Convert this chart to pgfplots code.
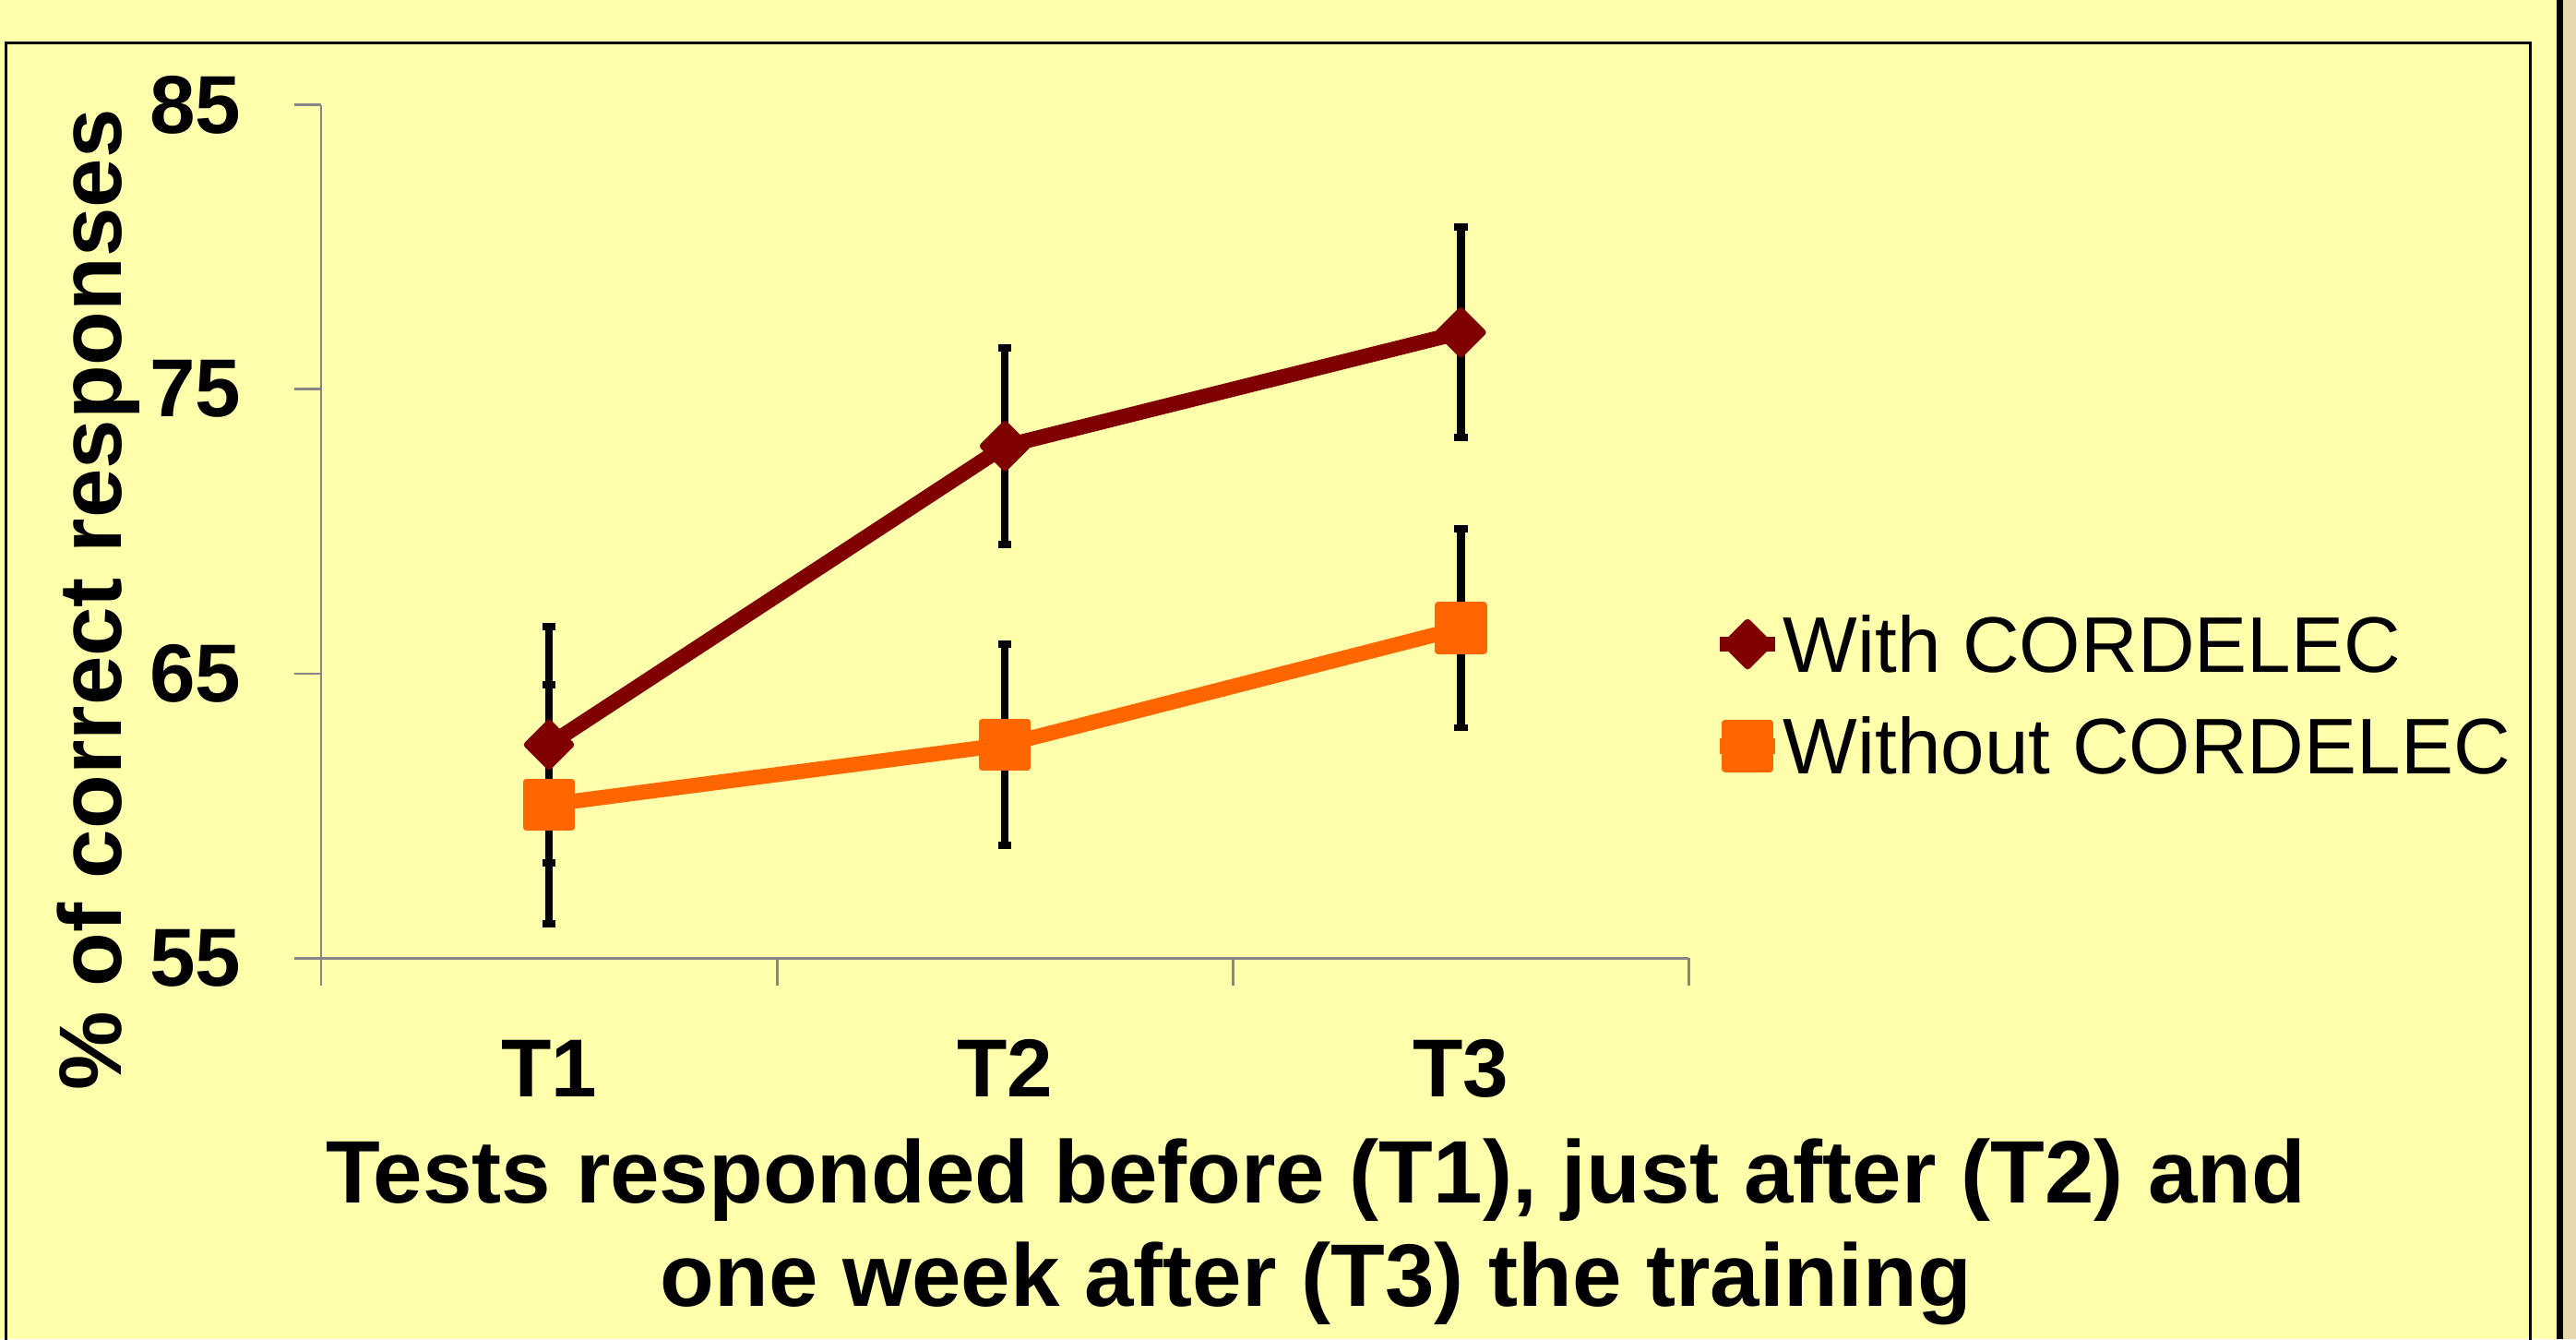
\documentclass[border=0pt]{standalone}
\usepackage{fontspec}
\setmainfont{Liberation Sans}
\usepackage{pgfplots}
\pgfplotsset{compat=1.18}
\definecolor{bgyellow}{RGB}{255,255,172}
\definecolor{maroonc}{RGB}{128,0,0}
\definecolor{orangec}{RGB}{255,102,0}
\definecolor{axgray}{RGB}{134,134,134}
\definecolor{beige}{RGB}{232,216,176}
\pgfplotstableread{
x y e
1 62.5 4.15
2 73.0 3.45
3 77.0 3.70
}\withdata
\pgfplotstableread{
x y e
1 60.4 4.20
2 62.5 3.55
3 66.6 3.50
}\withoutdata
\begin{document}
\begin{tikzpicture}
\useasboundingbox (0,0) rectangle (784pt,407.5pt);
\fill[bgyellow] (0,0) rectangle (778pt,407.5pt);
\fill[beige] (780pt,0) rectangle (784pt,407.5pt);
\fill[black] (778pt,0) rectangle (780pt,407.5pt);
\draw[black, line width=0.85pt] (1.7pt,-5pt) -- (1.7pt,394.4pt) -- (770.2pt,394.4pt) -- (770.2pt,-5pt);
\begin{axis}[
  at={(97.7pt,116pt)}, anchor=south west,
  scale only axis, width=416.3pt, height=259.6pt,
  xmin=0.5, xmax=3.5, ymin=55, ymax=85,
  clip=false,
  axis x line*=bottom, axis y line*=left,
  axis line style={axgray, line width=0.8pt},
  xtick={1,2,3}, xticklabels={T1,T2,T3},
  xtick style={draw=none},
  extra x ticks={0.5,1.5,2.5,3.5}, extra x tick labels={},
  extra x tick style={xtick style={draw=axgray, line width=0.8pt}, tick align=outside, major tick length=8.5pt},
  ytick={55,65,75,85},
  ytick style={draw=axgray, line width=0.8pt},
  tick align=outside, major tick length=8.2pt,
  /pgf/number format/assume math mode=true,
  xticklabel style={font=\bfseries\fontsize{25}{30}\selectfont, anchor=base, inner sep=0pt, yshift=-34pt},
  yticklabel style={font=\bfseries\fontsize{25}{30}\selectfont, anchor=east, inner sep=0pt, xshift=-16pt},
  ylabel={\% of correct responses},
  ylabel style={font=\bfseries\fontsize{27}{30}\selectfont, at={(axis description cs:-0.1458,0.4199)}, anchor=base, inner sep=0pt},
  xlabel={Tests responded before (T1), just after (T2) and\\one week after (T3) the training},
  xlabel style={font=\bfseries\fontsize{27}{31.5}\selectfont, align=center, at={(axis description cs:0.7274,-0.4083)}, anchor=base, inner sep=0pt},
  legend cell align=left,
  legend style={at={(axis description cs:1.017,0.4006)}, anchor=north west, draw=none, fill=none, inner sep=0pt, outer sep=0pt, row sep=14pt,
    nodes={inner sep=0pt, text height=17pt, text depth=0pt},
    font=\fontsize{24}{28}\selectfont},
  legend image code/.code={\draw[mark repeat=2,mark phase=2,#1] plot coordinates {(0pt,0pt) (8.5pt,0pt) (17pt,0pt)};},
]
\addplot[maroonc, line width=4.6pt, mark=square*, mark size=4.7pt,
  mark options={rotate=45, line width=2pt, line join=round, fill=maroonc, draw=maroonc}]
  table[x=x, y=y] {\withdata};
\addlegendentry{With CORDELEC}
\addplot[orangec, line width=4.6pt, mark=square*, mark size=6.9pt,
  mark options={line width=2pt, line join=round, fill=orangec, draw=orangec}]
  table[x=x, y=y] {\withoutdata};
\addlegendentry{Without CORDELEC}
\addplot[draw=none, forget plot, mark=none,
  error bars/.cd, y dir=both, y explicit,
  error bar style={black, line width=2.4pt},
  error mark options={rotate=90, mark size=2pt, line width=2.2pt, black}]
  table[x=x, y=y, y error=e] {\withdata};
\addplot[draw=none, forget plot, mark=none,
  error bars/.cd, y dir=both, y explicit,
  error bar style={black, line width=2.4pt},
  error mark options={rotate=90, mark size=2pt, line width=2.2pt, black}]
  table[x=x, y=y, y error=e] {\withoutdata};
\end{axis}
\end{tikzpicture}
\end{document}
